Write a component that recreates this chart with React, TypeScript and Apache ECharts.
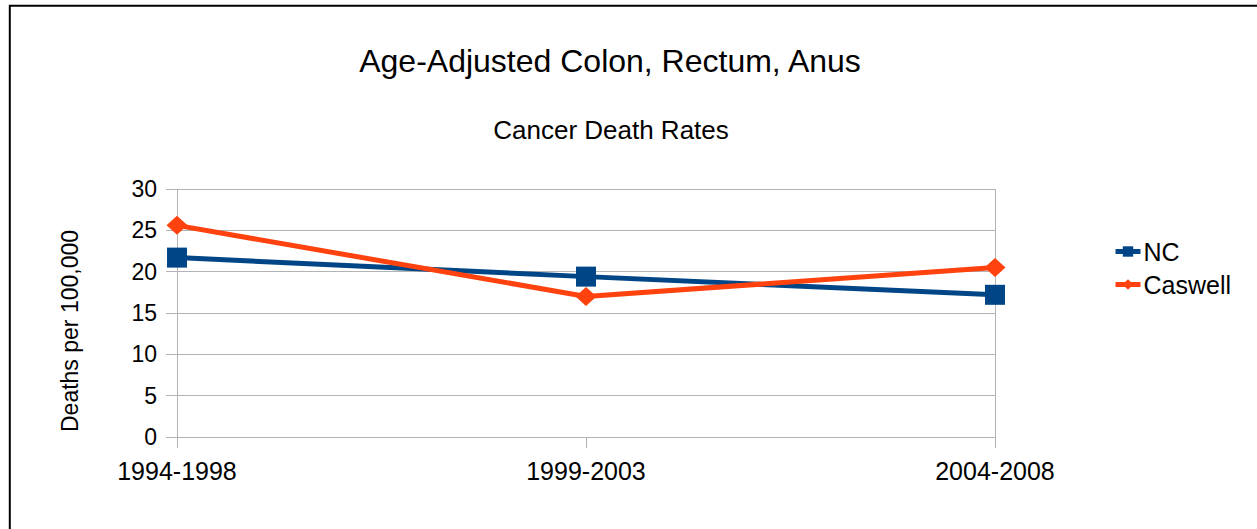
import React, { useEffect, useRef } from "react";
import * as echarts from "echarts";

const categories = ["1994-1998", "1999-2003", "2004-2008"];
const ncValues = [21.7, 19.4, 17.2];
const caswellValues = [25.6, 17.0, 20.5];
const seriesNames = ["NC", "Caswell"];
const titleText = "Age-Adjusted Colon, Rectum, Anus";
const subtitleText = "Cancer Death Rates";
const yAxisTitle = "Deaths per 100,000";

const FONT = "'Liberation Sans', Arial, sans-serif";
const GRAY = "#b3b3b3";

export default function App() {
  const ref = useRef<HTMLDivElement>(null);
  useEffect(() => {
    if (!ref.current) return;
    const chart = echarts.init(ref.current, null, { renderer: "svg" });
    chart.setOption({
      animation: false,
      backgroundColor: "#ffffff",
      textStyle: { fontFamily: FONT },
      graphic: [
        {
          type: "rect",
          shape: { x: 9.8, y: 5.8, width: 1400, height: 700 },
          style: { fill: "none", stroke: "#000", lineWidth: 2 },
          silent: true,
        },
        {
          type: "text",
          x: 610,
          y: 61,
          style: {
            text: titleText,
            fontSize: 32,
            fontFamily: FONT,
            fill: "#000",
            align: "center",
            verticalAlign: "middle",
          },
        },
        {
          type: "text",
          x: 611,
          y: 130,
          style: {
            text: subtitleText,
            fontSize: 26,
            fontFamily: FONT,
            fill: "#000",
            align: "center",
            verticalAlign: "middle",
          },
        },
        {
          type: "text",
          x: 70,
          y: 331,
          rotation: Math.PI / 2,
          style: {
            text: yAxisTitle,
            fontSize: 23,
            fontFamily: FONT,
            fill: "#000",
            align: "center",
            verticalAlign: "middle",
          },
        },
      ],
      legend: {
        orient: "vertical",
        left: 1108,
        top: 234,
        itemWidth: 25,
        itemHeight: 13,
        itemGap: 8,
        lineStyle: { width: 5 },
        textStyle: { fontSize: 25, color: "#000", fontFamily: FONT, lineHeight: 25, padding: [0, 0, 0, -2] },
        data: seriesNames,
      },
      grid: { left: 177, right: 262, top: 189, bottom: 92 },
      xAxis: {
        type: "category",
        data: categories,
        boundaryGap: false,
        axisLine: { lineStyle: { color: GRAY, width: 1 } },
        axisTick: { show: true, length: 11, lineStyle: { color: GRAY } },
        axisLabel: { fontSize: 25, color: "#000", margin: 21, fontFamily: FONT },
        splitLine: {
          show: true,
          interval: (index: number) => index === categories.length - 1,
          lineStyle: { color: GRAY, width: 1 },
        },
      },
      yAxis: {
        type: "value",
        min: 0,
        max: 30,
        interval: 5,
        axisLine: { show: true, lineStyle: { color: GRAY, width: 1 } },
        axisTick: { show: true, length: 11, lineStyle: { color: GRAY } },
        axisLabel: { fontSize: 23, color: "#000", margin: 20, fontFamily: FONT },
        splitLine: { show: true, lineStyle: { color: GRAY, width: 1 } },
      },
      series: [
        {
          name: seriesNames[0],
          type: "line",
          data: ncValues,
          symbol: "rect",
          symbolSize: 20,
          itemStyle: { color: "#004586" },
          lineStyle: { color: "#004586", width: 5 },
        },
        {
          name: seriesNames[1],
          type: "line",
          data: caswellValues,
          symbol: "diamond",
          symbolSize: [21, 19],
          itemStyle: { color: "#ff420e" },
          lineStyle: { color: "#ff420e", width: 5 },
        },
      ],
    });
    return () => chart.dispose();
  }, []);
  return (
    <div
      ref={ref}
      style={{ position: "absolute", left: 0, top: 0, width: 1257, height: 529 }}
    />
  );
}
